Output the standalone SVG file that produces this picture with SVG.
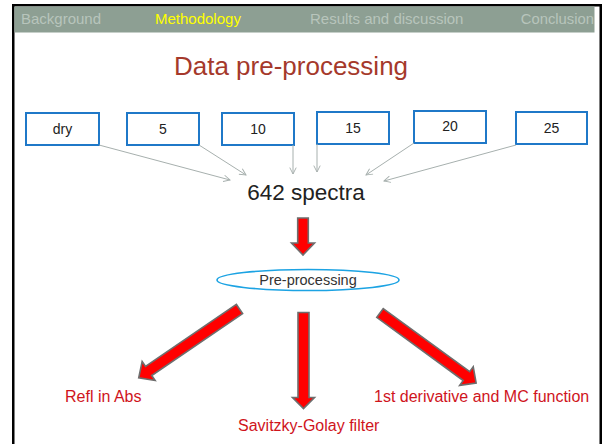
<svg xmlns="http://www.w3.org/2000/svg" width="602" height="444" viewBox="0 0 602 444">
  <style>
    .tab { font-family: "Liberation Sans", Arial, sans-serif; font-size: 15px; fill: #b8c5bc; }
    .box rect { fill: #ffffff; stroke: #1f78c8; stroke-width: 2; }
    .box text { font-family: "Liberation Sans", Arial, sans-serif; font-size: 14px; fill: #222222; text-anchor: middle; }
    .conn line { stroke: #a7b0ae; stroke-width: 1; marker-end: url(#open); }
    .big { fill: #ff0000; stroke: #6e6e6e; stroke-width: 1.6; stroke-linejoin: miter; }
    .out { font-family: "Liberation Sans", Arial, sans-serif; font-size: 16px; fill: #cf141c; }
  </style>
  <defs>
    <marker id="open" viewBox="0 0 10 10" refX="9" refY="5" markerWidth="8" markerHeight="8" markerUnits="userSpaceOnUse" orient="auto">
      <path d="M1,1 L9,5 L1,9" fill="none" stroke="#a7b0ae" stroke-width="1.2"/>
    </marker>
  </defs>

  <!-- frame -->
  <rect x="0" y="0" width="602" height="444" fill="#ffffff"/>
  <rect x="12" y="4" width="590" height="2.5" fill="#000000"/>
  <rect x="12" y="4" width="2.5" height="440" fill="#000000"/>
  <rect x="599.5" y="4" width="2.5" height="440" fill="#000000"/>

  <!-- navigation bar -->
  <g id="nav">
    <rect x="14.5" y="6.5" width="580" height="26" fill="#8d9f93"/>
    <text class="tab" x="21" y="24">Background</text>
    <text class="tab" x="155" y="24" style="fill:#ffff00">Methodology</text>
    <text class="tab" x="310" y="24">Results and discussion</text>
    <text class="tab" x="594" y="24" text-anchor="end" style="font-size:14.8px">Conclusion</text>
  </g>

  <g id="title">
    <text x="291" y="75" text-anchor="middle" font-family="Liberation Sans, Arial, sans-serif" font-size="26" fill="#a5392b">Data pre-processing</text>
  </g>

  <!-- moisture level boxes -->
  <g id="n-dry" class="box"><rect x="26" y="113" width="73" height="32"/><text x="62.5" y="134">dry</text></g>
  <g id="n-5" class="box"><rect x="127" y="113" width="72" height="32"/><text x="163" y="134">5</text></g>
  <g id="n-10" class="box"><rect x="222" y="113" width="72" height="32"/><text x="258" y="134">10</text></g>
  <g id="n-15" class="box"><rect x="317" y="112" width="72" height="32"/><text x="353" y="133">15</text></g>
  <g id="n-20" class="box"><rect x="414" y="111" width="72" height="32"/><text x="450" y="131">20</text></g>
  <g id="n-25" class="box"><rect x="516" y="112" width="71" height="32"/><text x="551.5" y="133">25</text></g>

  <g id="n-spectra">
    <text x="306" y="200" text-anchor="middle" font-family="Liberation Sans, Arial, sans-serif" font-size="22.5" fill="#222222">642 spectra</text>
  </g>

  <g id="n-pre">
    <ellipse cx="308" cy="280" rx="91" ry="10.5" fill="#ffffff" stroke="#1ca3e3" stroke-width="1.6"/>
    <text x="308" y="284.5" text-anchor="middle" font-family="Liberation Sans, Arial, sans-serif" font-size="14.5" fill="#333333">Pre-processing</text>
  </g>

  <g id="n-refl"><text class="out" x="65" y="402">Refl in Abs</text></g>
  <g id="n-sg"><text class="out" x="238" y="431">Savitzky-Golay filter</text></g>
  <g id="n-deriv"><text class="out" x="374" y="402">1st derivative and MC function</text></g>

  <!-- connectors -->
  <g id="connectors">
    <g class="conn">
      <line x1="99" y1="145" x2="230" y2="180"/>
      <line x1="199" y1="145" x2="246" y2="175"/>
      <line x1="293" y1="145" x2="293" y2="174"/>
      <line x1="317" y1="144" x2="317" y2="172"/>
      <line x1="414" y1="143" x2="366" y2="175"/>
      <line x1="516" y1="145" x2="384" y2="181"/>
    </g>
    <!-- block arrows: shaft half-width 5.5, head half-width 11.5, head length 12 -->
    <polygon class="big" transform="translate(303 218) rotate(90)" points="0,-5.3 25,-5.3 25,-11.5 37,0 25,11.5 25,5.3 0,5.3"/>
    <polygon class="big" transform="translate(239.5 309) rotate(145.7)" points="0,-5.5 110,-5.5 110,-11.5 122,0 110,11.5 110,5.5 0,5.5"/>
    <polygon class="big" transform="translate(303.5 312.5) rotate(90)" points="0,-5.5 85,-5.5 85,-11 96,0 85,11 85,5.5 0,5.5"/>
    <polygon class="big" transform="translate(380 313) rotate(36.1)" points="0,-5.5 107,-5.5 107,-11.5 119,0 107,11.5 107,5.5 0,5.5"/>
  </g>
</svg>
